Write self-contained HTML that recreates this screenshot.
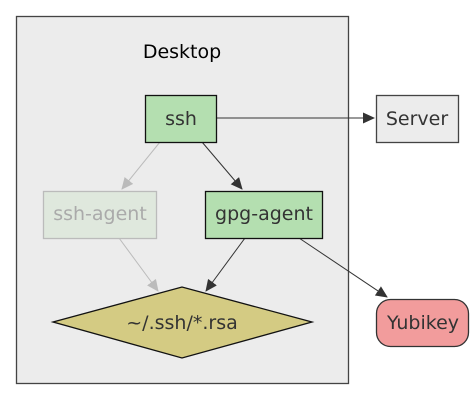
<!DOCTYPE html>
<html><head><meta charset="utf-8"><style>
html,body{margin:0;padding:0;background:#fff;}
svg{display:block;}
text{font-family:"DejaVu Sans","Liberation Sans",sans-serif;font-size:19px;text-anchor:middle;}
</style></head><body>
<svg width="474" height="401" viewBox="0 0 474 401" xmlns="http://www.w3.org/2000/svg">
<defs>
<marker id="ad" markerWidth="12" markerHeight="11" refX="11" refY="5.5" orient="auto" markerUnits="userSpaceOnUse"><path d="M0,0 L12,5.5 L0,11 z" fill="#333"/></marker>
<marker id="ag" markerWidth="12" markerHeight="11" refX="11" refY="5.5" orient="auto" markerUnits="userSpaceOnUse"><path d="M0,0 L12,5.5 L0,11 z" fill="#bbb"/></marker>
</defs>
<rect x="16.5" y="16.5" width="332" height="367" fill="#ececec" stroke="#444" stroke-width="1.3"/>
<text x="182" y="58" fill="#000">Desktop</text>

<line x1="217" y1="118" x2="374" y2="118" stroke="#333" stroke-width="1" marker-end="url(#ad)"/>
<line x1="160" y1="142" x2="122" y2="189" stroke="#bbb" stroke-width="1" marker-end="url(#ag)"/>
<line x1="202" y1="142" x2="242" y2="189" stroke="#333" stroke-width="1" marker-end="url(#ad)"/>
<line x1="119" y1="238" x2="158" y2="291" stroke="#bbb" stroke-width="1" marker-end="url(#ag)"/>
<line x1="245" y1="238" x2="206" y2="291" stroke="#333" stroke-width="1" marker-end="url(#ad)"/>
<line x1="299" y1="238" x2="387" y2="297" stroke="#333" stroke-width="1" marker-end="url(#ad)"/>

<rect x="145.5" y="95.5" width="71" height="47" fill="#b4dfb0" stroke="#111" stroke-width="1.3"/>
<text x="181" y="125" fill="#333">ssh</text>

<rect x="376.5" y="95.5" width="82" height="47" fill="#ececec" stroke="#444" stroke-width="1.3"/>
<text x="417" y="125" fill="#333">Server</text>

<rect x="43.5" y="191.5" width="113" height="47" fill="#dfe8dd" stroke="#bbb" stroke-width="1.3"/>
<text x="100" y="220" fill="#aaa">ssh-agent</text>

<rect x="205.5" y="191.5" width="117" height="47" fill="#b4dfb0" stroke="#111" stroke-width="1.3"/>
<text x="264" y="220" fill="#333">gpg-agent</text>

<polygon points="53,322 182,287 312,322 182,358" fill="#d4cb83" stroke="#111" stroke-width="1.3"/>
<text x="182" y="329" fill="#333">~/.ssh/*.rsa</text>

<rect x="376.5" y="299.5" width="92" height="47" rx="14" fill="#f29c9c" stroke="#333" stroke-width="1.3"/>
<text x="423" y="329" fill="#333">Yubikey</text>
</svg>
</body></html>
